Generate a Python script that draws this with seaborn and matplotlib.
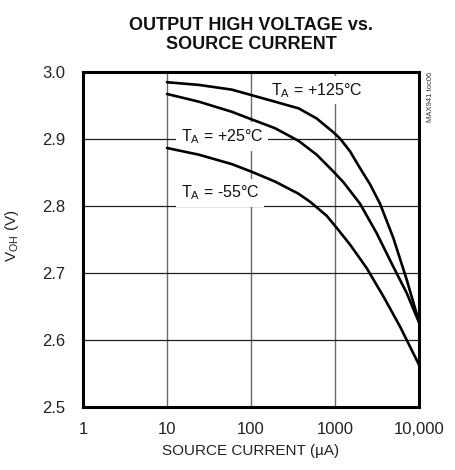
import matplotlib
matplotlib.use("Agg")
import matplotlib.pyplot as plt
import seaborn as sns
import pandas as pd
from matplotlib.ticker import FixedLocator, FixedFormatter, NullLocator

# ---- data ----
cur_125 = [10, 24, 59, 100, 193, 370, 605, 955, 1150, 1510, 1985, 2610, 3435, 4945, 7130, 10000]
v_125 = [2.984, 2.980, 2.973, 2.965, 2.955, 2.945, 2.930, 2.9095, 2.900, 2.881, 2.856, 2.832,
         2.803, 2.752, 2.690, 2.627]

cur_25 = [10, 24, 59, 100, 193, 370, 605, 955, 1260, 1650, 1985, 3135, 4945, 7130, 10000]
v_25 = [2.9665, 2.955, 2.940, 2.929, 2.9155, 2.8965, 2.876, 2.851, 2.835, 2.816, 2.803,
        2.759, 2.709, 2.670, 2.626]

cur_m55 = [10, 24, 59, 100, 193, 366, 504, 796, 1047, 1510, 2385, 3760, 5940, 10000]
v_m55 = [2.886, 2.876, 2.862, 2.851, 2.836, 2.818, 2.806, 2.785, 2.767, 2.742, 2.707,
         2.665, 2.620, 2.563]

series_names = ["+125", "+25", "-55"]
x_ticks = [1, 10, 100, 1000, 10000]
x_ticklabels = ["1", "10", "100", "1000", "10,000"]
y_ticks = [2.5, 2.6, 2.7, 2.8, 2.9, 3.0]
y_ticklabels = ["2.5", "2.6", "2.7", "2.8", "2.9", "3.0"]

df = pd.concat([
    pd.DataFrame({"I": cur_125, "V": v_125, "T": series_names[0]}),
    pd.DataFrame({"I": cur_25, "V": v_25, "T": series_names[1]}),
    pd.DataFrame({"I": cur_m55, "V": v_m55, "T": series_names[2]}),
])

sns.set_style("white")
plt.rcParams["font.family"] = ["Liberation Sans", "DejaVu Sans"]
plt.rcParams["mathtext.fontset"] = "custom"
plt.rcParams["mathtext.rm"] = "Liberation Sans"

fig = plt.figure(figsize=(4.56, 4.70), dpi=100)
ax = fig.add_axes([83 / 456, 1 - 407 / 470, 336 / 456, 335.5 / 470])

sns.lineplot(data=df, x="I", y="V", hue="T", palette=["black"] * 3,
             legend=False, ax=ax, linewidth=1.9, sort=False, estimator=None, zorder=5)

ax.set_xscale("log")
ax.set_xlim(1, 10000)
ax.set_ylim(2.5, 3.0)
ax.xaxis.set_major_locator(FixedLocator(x_ticks))
ax.xaxis.set_major_formatter(FixedFormatter(x_ticklabels))
ax.xaxis.set_minor_locator(NullLocator())
ax.yaxis.set_major_locator(FixedLocator(y_ticks))
ax.yaxis.set_major_formatter(FixedFormatter(y_ticklabels))
ax.tick_params(axis="both", length=0, labelsize=12, colors="#222222")
ax.tick_params(axis="y", pad=13)
ax.tick_params(axis="x", pad=11)

ax.grid(False)
for xv in x_ticks[1:-1]:
    ax.axvline(xv, color="#6a6a6a", linewidth=1.0, zorder=1)
for yv in y_ticks[1:-1]:
    ax.axhline(yv, color="#222222", linewidth=0.9, zorder=1)

for s in ax.spines.values():
    s.set_linewidth(2.2)
    s.set_color("black")
    s.set_zorder(6)

ax.set_xlabel("SOURCE CURRENT (µA)", fontsize=11, color="#222222", labelpad=5)
ax.set_ylabel(r"V$_\mathregular{OH}$ (V)", fontsize=11, color="#222222")
ax.yaxis.set_label_coords(-0.185, 0.51)

fig.text(251 / 456, 1 - 35 / 470, "OUTPUT HIGH VOLTAGE vs.\nSOURCE CURRENT",
         ha="center", va="center", fontsize=13, fontweight="bold",
         linespacing=1.15, color="#111111")

box = dict(facecolor="white", edgecolor="none", pad=3.5)
ax.text(172, 2.972, r"T$_\mathregular{A}$ = +125°C", fontsize=11.5, ha="left",
        va="center", bbox=box, zorder=3, color="#111111")
ax.text(14.5, 2.903, r"T$_\mathregular{A}$ = +25°C", fontsize=11.5, ha="left",
        va="center", bbox=box, zorder=3, color="#111111")
ax.text(14.5, 2.819, r"T$_\mathregular{A}$ = -55°C", fontsize=11.5, ha="left",
        va="center", bbox=box, zorder=3, color="#111111")

fig.text(431 / 456, 1 - 97 / 470, "MAX941 toc06", rotation=90, fontsize=5.5,
         ha="center", va="center", color="#333333")

fig.savefig("out.png", dpi=100)
